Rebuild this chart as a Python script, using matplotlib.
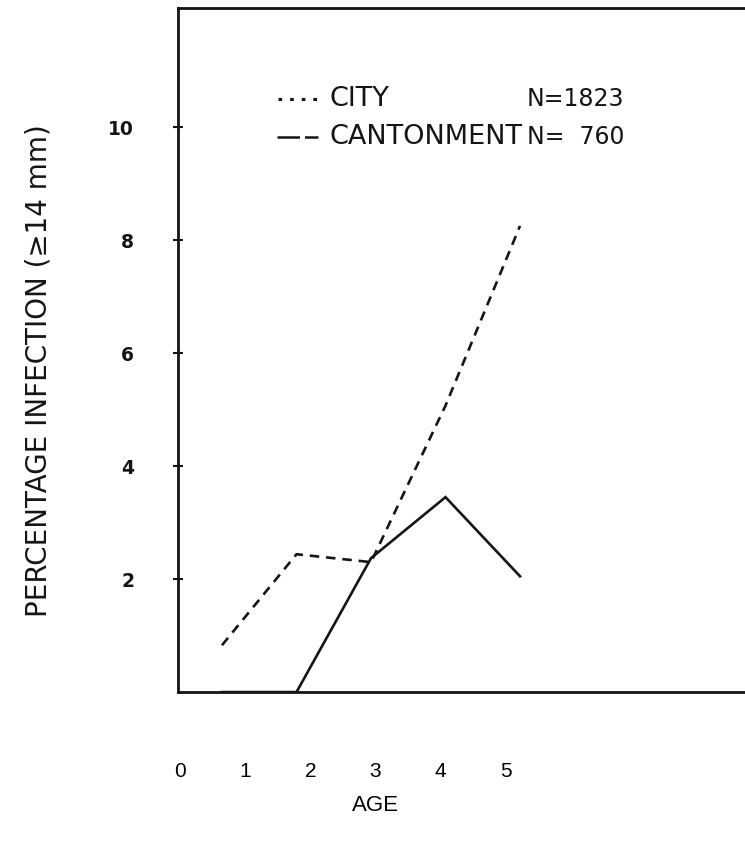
import matplotlib
matplotlib.use("Agg")
import matplotlib.pyplot as plt

# infection by age, city vs cantonment
ages = [1, 2, 3, 4, 5]
city_pct = [0.83, 2.44, 2.30, 5.07, 8.25]
canton_pct = [0.0, 0.0, 2.37, 3.45, 2.05]

yticks = [2, 4, 6, 8, 10]
age_labels = ["0", "1", "2", "3", "4", "5"]

legend_rows = [("CITY", "N=1823"), ("CANTONMENT", "N=  760")]

ink = "#151515"
scan_font = ["DejaVu Sans"]

fig = plt.figure(figsize=(7.45, 8.44), dpi=100)
ax = fig.add_axes([0.239, 0.180, 0.761, 0.810])

ax.plot(ages, city_pct, color=ink, lw=1.9, dashes=(3.6, 2.6))
ax.plot(ages, canton_pct, color=ink, lw=1.9, solid_joinstyle="miter")

ax.set_xlim(0.41, 8.02)
ax.set_ylim(0, 12.1)

for side in ["left", "bottom", "top"]:
    ax.spines[side].set_linewidth(2.0)
    ax.spines[side].set_color(ink)
ax.spines["right"].set_visible(False)

ax.set_xticks([])
ax.set_yticks(yticks)
ax.set_yticklabels([str(v) for v in yticks], fontsize=13.5, fontweight="bold",
                   family=scan_font, color=ink)
ax.tick_params(axis="y", direction="inout", length=7, width=1.5, pad=28,
               color=ink)

ax.set_ylabel("PERCENTAGE INFECTION (\u226514 mm)", fontsize=20,
              family=scan_font, color=ink)
ax.yaxis.set_label_coords(-0.222, 0.47)

# legend drawn by hand: sample line, name, sample size
row_y = [0.867, 0.812]
ax.plot([0.177, 0.245], [row_y[0], row_y[0]], transform=ax.transAxes,
        color=ink, lw=2.2, linestyle=(0, (1.2, 2.6)), clip_on=False)
ax.plot([0.175, 0.247], [row_y[1], row_y[1]], transform=ax.transAxes,
        color=ink, lw=1.8, linestyle=(0, (9, 2)), clip_on=False)
for (name, n), y in zip(legend_rows, row_y):
    ax.text(0.268, y, name, transform=ax.transAxes, fontsize=19.5,
            family=scan_font, color=ink, va="center", ha="left")
    ax.text(0.615, y, n, transform=ax.transAxes, fontsize=17,
            family=scan_font, color=ink, va="center", ha="left")

# age scale printed under the frame
ax2 = ax.twiny()
ax2.set_xlim(-0.03, 8.67)
ax2.xaxis.set_ticks_position("bottom")
ax2.xaxis.set_label_position("bottom")
ax2.set_xticks(range(len(age_labels)))
ax2.set_xticklabels(age_labels, fontsize=15, family=["Liberation Sans"],
                    color="black")
ax2.tick_params(axis="x", length=0, pad=50)
ax2.set_xlabel("AGE", fontsize=16, family=["Liberation Sans"])
ax2.xaxis.set_label_coords(0.349, -0.15)
for s in ax2.spines.values():
    s.set_visible(False)

fig.savefig("out.png", dpi=100, facecolor="white")
